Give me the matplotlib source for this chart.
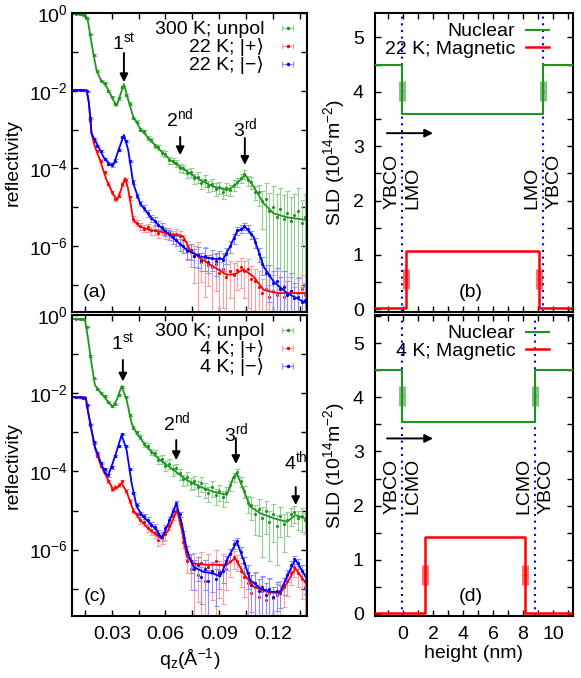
import matplotlib
matplotlib.use('Agg')
import matplotlib.pyplot as plt
import numpy as np
from matplotlib.lines import Line2D
from matplotlib.legend_handler import HandlerLine2D, HandlerTuple
from matplotlib.ticker import FixedLocator, FuncFormatter, MultipleLocator, NullFormatter

plt.rcParams['font.family'] = ['Liberation Sans', 'DejaVu Sans']
plt.rcParams['font.size'] = 14
plt.rcParams['mathtext.fontset'] = 'custom'
plt.rcParams['mathtext.rm'] = 'Liberation Sans'
plt.rcParams['mathtext.it'] = 'Liberation Sans:italic'
plt.rcParams['mathtext.default'] = 'regular'

# ---------------- reflectivity data (log10 R) ----------------
q_data = [0.010, 0.012, 0.014, 0.016, 0.018, 0.020, 0.022, 0.024, 0.026, 0.028,
          0.030, 0.032, 0.034, 0.036, 0.038, 0.040, 0.042, 0.044, 0.046, 0.048,
          0.050, 0.052, 0.054, 0.056, 0.058, 0.060, 0.062, 0.064, 0.066, 0.068,
          0.070, 0.072, 0.074, 0.076, 0.078, 0.080, 0.082, 0.084, 0.086, 0.088,
          0.090, 0.092, 0.094, 0.096, 0.098, 0.100, 0.102, 0.104, 0.106, 0.108,
          0.110, 0.112, 0.114, 0.116, 0.118, 0.120, 0.122, 0.124, 0.126, 0.128,
          0.130, 0.132, 0.134, 0.136, 0.138]

# panel (a): 300 K unpol, 22 K |+>, 22 K |->
a_green = [-0.02, -0.03, -0.05, -0.14, -0.55, -1.08, -1.50, -1.74, -1.80, -2.00,
           -2.15, -2.35, -2.20, -1.90, -2.10, -2.33, -2.70, -2.80, -3.00, -3.05,
           -3.22, -3.27, -3.42, -3.45, -3.60, -3.62, -3.78, -3.80, -3.86, -3.98,
           -4.00, -4.12, -4.10, -4.25, -4.22, -4.38, -4.30, -4.45, -4.40, -4.52,
           -4.47, -4.60, -4.50, -4.55, -4.42, -4.35, -4.25, -4.15, -4.30, -4.35,
           -4.60, -4.62, -4.85, -4.78, -5.10, -5.00, -5.25, -5.05, -5.30, -5.15,
           -5.35, -5.20, -5.10, -5.40, -5.25]
a_green_err = [0.03, 0.03, 0.03, 0.03, 0.04, 0.04, 0.05, 0.05, 0.05, 0.05,
               0.05, 0.06, 0.06, 0.06, 0.06, 0.07, 0.08, 0.09, 0.10, 0.10,
               0.12, 0.13, 0.14, 0.15, 0.16, 0.18, 0.20, 0.20, 0.22, 0.22,
               0.24, 0.25, 0.26, 0.28, 0.30, 0.30, 0.32, 0.32, 0.35, 0.35,
               0.35, 0.35, 0.35, 0.32, 0.30, 0.28, 0.25, 0.25, 0.30, 0.35,
               0.40, 0.55, 0.80, 1.50, 2.00, 2.50, 3.00, 2.50, 3.00, 2.80,
               3.20, 2.50, 3.00, 2.80, 3.00]
a_red = [-1.98, -1.99, -1.99, -2.02, -2.75, -3.30, -3.55, -3.80, -4.10, -4.40,
         -4.62, -4.80, -4.70, -4.40, -4.30, -4.75, -5.30, -5.40, -5.48, -5.55,
         -5.52, -5.60, -5.58, -5.66, -5.60, -5.68, -5.65, -5.72, -5.68, -5.75,
         -5.85, -6.05, -6.15, -6.25, -6.20, -6.40, -6.30, -6.50, -6.55, -6.45,
         -6.70, -6.60, -6.80, -6.65, -6.75, -6.62, -6.55, -6.65, -6.60, -6.85,
         -6.90, -7.05, -7.20, -7.10, -7.30, -7.15, -7.25, -7.10, -7.30, -7.20,
         -7.15, -7.35, -7.20, -7.10, -7.25]
a_red_err = [0.03, 0.03, 0.03, 0.03, 0.05, 0.06, 0.06, 0.07, 0.08, 0.09,
             0.10, 0.10, 0.10, 0.10, 0.10, 0.12, 0.15, 0.18, 0.20, 0.20,
             0.22, 0.22, 0.25, 0.25, 0.25, 0.28, 0.30, 0.30, 0.35, 0.35,
             0.40, 0.50, 0.60, 0.80, 1.00, 0.70, 0.90, 0.70, 1.20, 0.80,
             1.00, 0.90, 1.20, 0.80, 1.00, 0.70, 0.70, 0.80, 0.90, 1.20,
             1.00, 1.50, 1.20, 1.80, 1.00, 1.50, 1.20, 1.80, 1.00, 1.50,
             1.20, 1.00, 1.50, 1.20, 1.00]
a_blue = [-1.98, -1.99, -1.99, -2.02, -2.70, -3.25, -3.42, -3.55, -3.75, -3.88,
          -3.92, -3.80, -3.52, -3.20, -3.30, -3.80, -4.35, -4.70, -4.90, -5.02,
          -5.15, -5.28, -5.35, -5.45, -5.50, -5.62, -5.70, -5.78, -5.85, -5.95,
          -6.00, -6.12, -6.10, -6.25, -6.22, -6.35, -6.25, -6.40, -6.30, -6.38,
          -6.30, -6.35, -6.20, -6.00, -5.80, -5.60, -5.55, -5.48, -5.55, -5.70,
          -5.90, -6.20, -6.45, -6.70, -6.75, -6.95, -6.90, -7.10, -7.05, -7.25,
          -7.15, -7.35, -7.30, -7.45, -7.40]
a_blue_err = [0.03, 0.03, 0.03, 0.03, 0.05, 0.05, 0.06, 0.06, 0.07, 0.08,
              0.08, 0.07, 0.06, 0.05, 0.05, 0.06, 0.10, 0.12, 0.15, 0.18,
              0.20, 0.20, 0.22, 0.25, 0.25, 0.25, 0.28, 0.30, 0.30, 0.35,
              0.35, 0.40, 0.45, 0.50, 0.55, 0.50, 0.60, 0.50, 0.55, 0.60,
              0.50, 0.50, 0.45, 0.35, 0.30, 0.25, 0.22, 0.20, 0.22, 0.25,
              0.30, 0.40, 0.50, 0.60, 0.80, 1.00, 1.20, 1.00, 1.50, 1.20,
              1.80, 1.50, 2.00, 1.50, 1.80]

# panel (c): 300 K unpol, 4 K |+>, 4 K |->
c_green = [-0.10, -0.10, -0.11, -0.30, -1.05, -1.62, -1.90, -2.00, -2.08, -2.22,
           -2.33, -2.28, -2.05, -1.85, -2.10, -2.55, -2.88, -3.00, -3.12, -3.30,
           -3.35, -3.50, -3.52, -3.70, -3.68, -3.85, -3.80, -3.95, -3.92, -4.05,
           -4.20, -4.15, -4.30, -4.25, -4.40, -4.30, -4.45, -4.55, -4.40, -4.60,
           -4.50, -4.65, -4.55, -4.35, -4.15, -4.02, -4.25, -4.50, -4.80, -4.85,
           -5.10, -4.95, -5.20, -5.00, -5.30, -5.10, -5.40, -5.15, -5.35, -5.25,
           -5.10, -5.05, -5.20, -5.15, -5.25]
c_green_err = [0.03, 0.03, 0.03, 0.03, 0.04, 0.05, 0.05, 0.05, 0.05, 0.06,
               0.06, 0.06, 0.06, 0.06, 0.06, 0.07, 0.08, 0.10, 0.12, 0.14,
               0.16, 0.18, 0.20, 0.22, 0.25, 0.28, 0.28, 0.30, 0.30, 0.32,
               0.32, 0.35, 0.35, 0.38, 0.40, 0.40, 0.40, 0.42, 0.45, 0.45,
               0.45, 0.45, 0.40, 0.30, 0.25, 0.22, 0.28, 0.35, 0.45, 0.60,
               0.70, 0.80, 0.90, 0.75, 0.90, 0.80, 0.90, 0.70, 0.80, 0.60,
               0.50, 0.45, 0.50, 0.60, 0.55]
c_red = [-2.10, -2.10, -2.11, -2.32, -2.82, -3.28, -3.60, -3.85, -4.00, -4.25,
         -4.45, -4.40, -4.35, -4.25, -4.50, -4.75, -5.00, -5.10, -5.25, -5.30,
         -5.45, -5.50, -5.55, -5.75, -5.70, -5.60, -5.40, -5.15, -5.00, -5.25,
         -5.80, -6.30, -6.50, -6.40, -6.65, -6.35, -6.80, -6.45, -6.60, -6.30,
         -6.55, -6.40, -6.50, -6.30, -6.20, -6.30, -6.55, -6.70, -6.85, -7.10,
         -6.95, -7.20, -7.05, -7.30, -7.10, -7.25, -7.15, -7.05, -6.95, -6.80,
         -6.60, -6.45, -6.60, -6.75, -6.95]
c_red_err = [0.03, 0.03, 0.03, 0.03, 0.05, 0.06, 0.07, 0.08, 0.08, 0.09,
             0.10, 0.10, 0.10, 0.10, 0.12, 0.12, 0.14, 0.16, 0.18, 0.20,
             0.22, 0.25, 0.28, 0.30, 0.30, 0.28, 0.22, 0.18, 0.15, 0.18,
             0.30, 0.50, 0.70, 1.00, 0.80, 1.00, 0.90, 1.20, 0.80, 1.00,
             0.80, 0.90, 0.70, 0.60, 0.50, 0.45, 0.60, 0.70, 0.90, 1.00,
             1.20, 1.00, 1.20, 1.00, 1.20, 1.00, 0.90, 0.80, 0.70, 0.60,
             0.50, 0.45, 0.55, 0.70, 0.90]
c_blue = [-2.10, -2.10, -2.11, -2.30, -2.80, -3.25, -3.52, -3.78, -3.95, -4.10,
          -3.90, -3.60, -3.35, -3.05, -3.35, -3.95, -4.55, -4.85, -5.10, -5.15,
          -5.25, -5.38, -5.42, -5.60, -5.65, -5.45, -5.25, -5.00, -4.80, -5.10,
          -5.60, -6.05, -6.30, -6.50, -6.40, -6.70, -6.50, -6.80, -6.55, -6.75,
          -6.60, -6.55, -6.30, -6.10, -5.85, -5.78, -6.05, -6.35, -6.60, -6.90,
          -6.85, -7.05, -6.95, -7.15, -7.00, -7.20, -7.05, -7.10, -6.90, -6.65,
          -6.40, -6.25, -6.35, -6.55, -6.80]
c_blue_err = [0.03, 0.03, 0.03, 0.03, 0.05, 0.05, 0.06, 0.07, 0.08, 0.08,
              0.07, 0.06, 0.05, 0.05, 0.05, 0.06, 0.08, 0.10, 0.14, 0.16,
              0.18, 0.20, 0.22, 0.24, 0.26, 0.22, 0.18, 0.14, 0.12, 0.15,
              0.22, 0.35, 0.50, 0.70, 0.60, 0.80, 0.70, 0.90, 0.70, 0.80,
              0.60, 0.50, 0.40, 0.30, 0.25, 0.22, 0.30, 0.45, 0.60, 0.80,
              0.90, 1.00, 0.90, 1.00, 0.90, 0.80, 0.70, 0.60, 0.45, 0.35,
              0.28, 0.25, 0.30, 0.40, 0.55]

# fitted curves (q, log10 R)
a_green_fq = [0.008, 0.0150, 0.0165, 0.0178, 0.0197, 0.0215, 0.0234, 0.0271, 0.0309, 0.0327,
              0.0345, 0.0368, 0.0392, 0.0420, 0.0458, 0.0514, 0.0570, 0.0626, 0.0682, 0.0737,
              0.0793, 0.0868, 0.0942, 0.0980, 0.1045, 0.1092, 0.1148, 0.1204, 0.1278, 0.139]
a_green_fit = [-0.03, -0.04, -0.15, -0.52, -1.04, -1.47, -1.68, -1.90, -2.24, -2.39,
               -2.15, -1.83, -2.24, -2.67, -2.97, -3.27, -3.53, -3.78, -3.96, -4.13,
               -4.30, -4.47, -4.56, -4.47, -4.17, -4.47, -4.90, -5.16, -5.26, -5.33]
a_red_fq = [0.008, 0.0160, 0.0172, 0.0180, 0.0187, 0.0206, 0.0234, 0.0271, 0.0309, 0.0331,
            0.0352, 0.0374, 0.0390, 0.0402, 0.0420, 0.0458, 0.0514, 0.0570, 0.0644, 0.0680,
            0.0700, 0.0737, 0.0793, 0.0868, 0.0942, 0.0990, 0.1036, 0.1092, 0.1148, 0.1223, 0.139]
a_red_fit = [-1.98, -1.99, -2.30, -2.70, -3.10, -3.44, -3.78, -4.30, -4.68, -4.81,
             -4.55, -4.25, -4.50, -4.81, -5.33, -5.50, -5.59, -5.63, -5.71, -5.72,
             -5.76, -6.10, -6.31, -6.53, -6.74, -6.72, -6.60, -6.79, -7.13, -7.21, -7.21]
a_blue_fq = [0.008, 0.0160, 0.0172, 0.0180, 0.0187, 0.0215, 0.0253, 0.0290, 0.0313, 0.0340,
             0.0368, 0.0392, 0.0420, 0.0458, 0.0514, 0.0570, 0.0644, 0.0719, 0.0793, 0.0868,
             0.0923, 0.0961, 0.0998, 0.1045, 0.1092, 0.1148, 0.1204, 0.1278, 0.139]
a_blue_fit = [-1.98, -1.99, -2.30, -2.70, -3.10, -3.35, -3.70, -3.91, -3.87, -3.50,
              -3.14, -3.53, -4.38, -4.90, -5.24, -5.50, -5.80, -6.10, -6.27, -6.33,
              -6.33, -6.01, -5.63, -5.51, -5.76, -6.53, -6.92, -7.21, -7.48]

c_green_fq = [0.008, 0.0150, 0.0166, 0.0187, 0.0206, 0.0234, 0.0271, 0.0305, 0.0330, 0.0355,
              0.0383, 0.0411, 0.0439, 0.0495, 0.0570, 0.0644, 0.0719, 0.0793, 0.0868, 0.0942,
              0.0980, 0.0998, 0.1036, 0.1073, 0.1129, 0.1204, 0.1278, 0.1325, 0.139]
c_green_fit = [-0.10, -0.11, -0.55, -1.24, -1.79, -1.96, -2.17, -2.35, -2.15, -1.82,
               -2.17, -2.77, -3.03, -3.37, -3.71, -3.96, -4.22, -4.39, -4.52, -4.60,
               -4.14, -4.05, -4.48, -4.90, -5.07, -5.20, -5.29, -5.12, -5.22]
c_red_fq = [0.008, 0.0155, 0.0166, 0.0187, 0.0206, 0.0234, 0.0271, 0.0309, 0.0330, 0.0355,
            0.0383, 0.0420, 0.0458, 0.0514, 0.0560, 0.0579, 0.0617, 0.0664, 0.0691, 0.0719,
            0.0756, 0.0831, 0.0886, 0.0942, 0.0989, 0.1036, 0.1092, 0.1167, 0.1241, 0.1278,
            0.1325, 0.139]
c_red_fit = [-2.10, -2.11, -2.43, -2.94, -3.40, -3.79, -4.14, -4.48, -4.42, -4.30,
             -4.52, -4.99, -5.24, -5.50, -5.67, -5.71, -5.50, -4.99, -5.50, -6.18,
             -6.35, -6.39, -6.39, -6.39, -6.22, -6.61, -6.95, -7.08, -7.12, -6.86,
             -6.48, -6.90]
c_blue_fq = [0.008, 0.0155, 0.0166, 0.0187, 0.0206, 0.0234, 0.0262, 0.0281, 0.0318, 0.0355,
             0.0383, 0.0411, 0.0439, 0.0476, 0.0514, 0.0551, 0.0579, 0.0617, 0.0660, 0.0691,
             0.0719, 0.0756, 0.0812, 0.0868, 0.0905, 0.0952, 0.0998, 0.1036, 0.1073, 0.1129,
             0.1185, 0.1241, 0.1278, 0.1325, 0.139]
c_blue_fit = [-2.10, -2.11, -2.43, -2.94, -3.37, -3.71, -4.05, -4.10, -3.62, -3.07,
              -3.45, -4.30, -4.90, -5.16, -5.33, -5.50, -5.71, -5.33, -4.82, -5.33,
              -6.01, -6.44, -6.57, -6.61, -6.69, -6.18, -5.80, -6.27, -6.78, -6.99,
              -7.08, -7.08, -6.69, -6.25, -6.75]

# Bragg peak markers: (number, suffix, q, text y, arrow tail, arrow tip) in log10 R
a_peaks = [('1', 'st', 0.0368, -0.77, -1.03, -1.78),
           ('2', 'nd', 0.0682, -2.71, -3.19, -3.66),
           ('3', 'rd', 0.1043, -2.97, -3.22, -3.91)]
c_peaks = [('1', 'st', 0.0362, -0.72, -1.15, -1.70),
           ('2', 'nd', 0.0660, -2.73, -3.20, -3.71),
           ('3', 'rd', 0.0993, -3.02, -3.15, -3.81),
           ('4', 'th', 0.1327, -3.75, -4.40, -4.86)]

# ---------------- SLD profiles ----------------
b_nuc_iface = [-0.05, 9.33]
b_nuc_level = [4.5, 3.6]
b_mag_iface = [0.18, 9.07]
b_mag_level = [0.02, 1.08]
b_nuc_err_y, b_mag_err_y = 4.02, 0.55
b_layers = ['YBCO', 'LMO']

d_nuc_iface = [-0.05, 8.8]
d_nuc_level = [4.5, 3.54]
d_mag_iface = [1.47, 8.13]
d_mag_level = [0.02, 1.42]
d_nuc_err_y, d_mag_err_y = 4.02, 0.72
d_layers = ['YBCO', 'LCMO']

GREEN, LGREEN = '#1e961e', '#8fd08f'
RED, LRED = '#ff0000', '#ff9c9c'
BLUE, LBLUE = '#0000ff', '#8c8cff'

fig = plt.figure(figsize=(5.81, 6.78), dpi=100)
ax_a = fig.add_axes([0.1239, 0.5398, 0.4045, 0.4410])
ax_c = fig.add_axes([0.1239, 0.0914, 0.4045, 0.4440])
ax_b = fig.add_axes([0.6454, 0.5398, 0.3408, 0.4410])
ax_d = fig.add_axes([0.6454, 0.0914, 0.3408, 0.4440])

QLIM = (0.0078, 0.139)
ZLIM = (-1.87, 11.33)


def style_axes(ax):
    for s in ax.spines.values():
        s.set_linewidth(1.5)
    ax.tick_params(which='both', direction='in', top=True, right=True,
                   length=4, width=1)


def refl_panel(ax, series, peaks, tag, temp, show_x):
    q = np.array(q_data)
    for logr, err, fq, fl, dark, light in series:
        r = 10.0 ** np.array(logr)
        dr = r * np.array(err)
        lo = np.minimum(dr, r * 0.9999)
        ax.errorbar(q, r, yerr=[lo, dr], fmt='none', ecolor=light,
                    elinewidth=0.8, capsize=1.8, capthick=0.8)
        ax.plot(q, r, '.', color=dark, ms=2.5)
    for logr, err, fq, fl, dark, light in series:
        ax.plot(fq, 10.0 ** np.array(fl), color=dark, lw=1.3)

    for num, sup, qp, yt, y0, y1 in peaks:
        ax.annotate('', xy=(qp, 10.0 ** y1), xytext=(qp, 10.0 ** y0),
                    arrowprops=dict(arrowstyle='-|>', color='k', lw=1.4,
                                    mutation_scale=12, shrinkA=0, shrinkB=0))
        ax.text(qp, 10.0 ** yt, num + r'$^{' + sup + '}$', ha='center', va='center')

    ax.set_yscale('log')
    ax.set_xlim(*QLIM)
    ax.set_ylim(2e-8, 1.0)
    ax.yaxis.set_major_locator(FixedLocator([1e0, 1e-2, 1e-4, 1e-6]))
    ax.yaxis.set_minor_locator(FixedLocator([1e-1, 1e-3, 1e-5, 1e-7]))
    ax.yaxis.set_major_formatter(FuncFormatter(
        lambda v, p: r'$\mathdefault{10^{%d}}$' % round(np.log10(v))))
    ax.yaxis.set_minor_formatter(NullFormatter())
    ax.xaxis.set_major_locator(MultipleLocator(0.03))
    ax.xaxis.set_minor_locator(FixedLocator([0.015, 0.045, 0.075, 0.105, 0.135]))
    style_axes(ax)
    ax.tick_params(axis='y', pad=3)
    ax.tick_params(axis='x', pad=7)
    if show_x:
        ax.xaxis.set_major_formatter(FuncFormatter(lambda v, p: '%.2f' % v))
        ax.set_xlabel(r'q$_z$(Å$^{-1}$)')
        ax.xaxis.set_label_coords(0.5, -0.10)
    else:
        ax.set_xticklabels([])
    ax.set_ylabel('reflectivity')
    ax.yaxis.set_label_coords(-0.215, 0.5)

    labels = ['300 K; unpol', temp + r'; |+⟩', temp + r'; |−⟩']
    handles = []
    hmap = {}
    for (logr, err, fq, fl, dark, light) in series:
        bar = Line2D([], [], color=light, lw=0.8, marker='|', ms=5, mew=0.8)
        dot = Line2D([], [], ls='none', marker='.', ms=3, color=dark)
        hmap[bar] = HandlerLine2D(numpoints=2)
        handles.append((bar, dot))
    hmap[tuple] = HandlerTuple(ndivide=1)
    ax.legend(handles, labels, handler_map=hmap, loc='upper right',
              frameon=False, markerfirst=False, handlelength=1.2,
              handletextpad=0.6, labelspacing=0.0, borderaxespad=0.1,
              borderpad=0.3, prop={'family': ['Liberation Sans', 'DejaVu Sans']})
    ax.text(0.098, 0.064, tag, transform=ax.transAxes, ha='center', va='center')


def sld_panel(ax, nuc_if, nuc_lv, mag_if, mag_lv, nuc_ey, mag_ey, layers,
              tag, temp, show_x, ylim):
    zn = [ZLIM[0], nuc_if[0], nuc_if[0], nuc_if[1], nuc_if[1], ZLIM[1]]
    sn = [nuc_lv[0], nuc_lv[0], nuc_lv[1], nuc_lv[1], nuc_lv[0], nuc_lv[0]]
    zm = [ZLIM[0], mag_if[0], mag_if[0], mag_if[1], mag_if[1], ZLIM[1]]
    sm = [mag_lv[0], mag_lv[0], mag_lv[1], mag_lv[1], mag_lv[0], mag_lv[0]]

    for x in nuc_if:
        ax.axvline(x, color='blue', ls=(0, (1, 2.2)), lw=1.5, zorder=1)
    ax.errorbar(nuc_if, [nuc_ey, nuc_ey], xerr=0.13, fmt='none', ecolor=GREEN,
                alpha=0.55, elinewidth=1, capsize=7.5, capthick=2.2, zorder=2)
    ax.errorbar(mag_if, [mag_ey, mag_ey], xerr=0.13, fmt='none', ecolor=RED,
                alpha=0.55, elinewidth=1, capsize=7.5, capthick=2.2, zorder=2)
    ax.plot(zn, sn, color=GREEN, lw=1.5, label='Nuclear', zorder=3)
    ax.plot(zm, sm, color=RED, lw=1.8, label=temp + '; Magnetic', zorder=3)

    ax.annotate('', xy=(2.0, 3.24), xytext=(-1.07, 3.24),
                arrowprops=dict(arrowstyle='-|>', color='k', lw=1.4,
                                mutation_scale=12, shrinkA=0, shrinkB=0))
    # layer names on both sides of each interface
    ax.text(nuc_if[0] - 0.7, 1.85, layers[0], rotation=90, ha='center', va='bottom')
    ax.text(nuc_if[0] + 0.68, 1.85, layers[1], rotation=90, ha='center', va='bottom')
    ax.text(nuc_if[1] - 0.72, 1.85, layers[1], rotation=90, ha='center', va='bottom')
    ax.text(nuc_if[1] + 0.72, 1.85, layers[0], rotation=90, ha='center', va='bottom')

    ax.set_xlim(*ZLIM)
    ax.set_ylim(*ylim)
    ax.xaxis.set_major_locator(MultipleLocator(2))
    ax.xaxis.set_minor_locator(MultipleLocator(1))
    ax.yaxis.set_major_locator(MultipleLocator(1))
    ax.yaxis.set_minor_locator(MultipleLocator(0.5))
    style_axes(ax)
    ax.tick_params(axis='y', pad=8)
    ax.tick_params(axis='x', pad=7)
    if show_x:
        ax.set_xlabel('height (nm)')
        ax.xaxis.set_label_coords(0.5, -0.095)
    else:
        ax.set_xticklabels([])
    ax.set_ylabel(r'SLD (10$^{14}$m$^{-2}$)')
    ax.yaxis.set_label_coords(-0.14, 0.5)
    ax.legend(loc='upper right', bbox_to_anchor=(0.93, 1.0), frameon=False,
              markerfirst=False, handlelength=1.2, handletextpad=0.55,
              labelspacing=0.0, borderaxespad=0.2, borderpad=0.3)
    ax.text(0.485, 0.064, tag, transform=ax.transAxes, ha='center', va='center')


refl_panel(ax_a,
           [(a_green, a_green_err, a_green_fq, a_green_fit, GREEN, LGREEN),
            (a_red, a_red_err, a_red_fq, a_red_fit, RED, LRED),
            (a_blue, a_blue_err, a_blue_fq, a_blue_fit, BLUE, LBLUE)],
           a_peaks, '(a)', '22 K', False)
refl_panel(ax_c,
           [(c_green, c_green_err, c_green_fq, c_green_fit, GREEN, LGREEN),
            (c_red, c_red_err, c_red_fq, c_red_fit, RED, LRED),
            (c_blue, c_blue_err, c_blue_fq, c_blue_fit, BLUE, LBLUE)],
           c_peaks, '(c)', '4 K', True)
sld_panel(ax_b, b_nuc_iface, b_nuc_level, b_mag_iface, b_mag_level,
          b_nuc_err_y, b_mag_err_y, b_layers, '(b)', '22 K', False, (-0.05, 5.45))
sld_panel(ax_d, d_nuc_iface, d_nuc_level, d_mag_iface, d_mag_level,
          d_nuc_err_y, d_mag_err_y, d_layers, '(d)', '4 K', True, (-0.04, 5.52))

fig.savefig('out.png', dpi=100)
